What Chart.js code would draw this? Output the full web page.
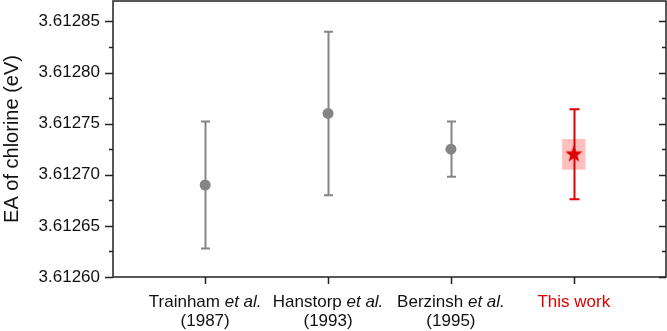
<!DOCTYPE html>
<html>
<head>
<meta charset="utf-8">
<script src="https://cdn.jsdelivr.net/npm/chart.js@4"></script>
<style>
  html, body { margin: 0; padding: 0; background: #fff; }
  #wrap { width: 667px; height: 331px; }
</style>
</head>
<body>
<div id="wrap"><canvas id="chart"></canvas></div>
<script>
// data
const authors = ['Trainham', 'Hanstorp', 'Berzinsh', 'This work'];
const etAl = [' et al.', ' et al.', ' et al.', ''];
const years = ['(1987)', '(1993)', '(1995)', ''];
const positions = [1, 2, 3, 4];
const ea = [3.61269, 3.61276, 3.612725, 3.61272];
const eaErr = [0.000062, 0.00008, 0.000027, 0.000044];
const thisWorkBand = 0.000015;
const yTicks = [3.61260, 3.61265, 3.61270, 3.61275, 3.61280, 3.61285];

const FONT = "'Liberation Sans', Arial, sans-serif";
const GREY = '#858585';
const RED = '#e00000';
const INK = '#222';

// filled five point star used as point style
function makeStar(r, color) {
  const c = document.createElement('canvas');
  c.width = c.height = r * 2 + 2;
  const g = c.getContext('2d');
  g.translate(r + 1, r + 1);
  g.beginPath();
  for (let k = 0; k < 10; k++) {
    const rad = k % 2 === 0 ? r : r * 0.42;
    const a = -Math.PI / 2 + k * Math.PI / 5;
    g.lineTo(rad * Math.cos(a), rad * Math.sin(a));
  }
  g.closePath();
  g.fillStyle = color;
  g.fill();
  return c;
}
const star = makeStar(9, RED);

const lit = positions.slice(0, 3).map((x, i) => ({ x: x, y: ea[i] }));
const ours = [{ x: positions[3], y: ea[3] }];

function noPad(s) {
  s.paddingTop = 0; s.paddingBottom = 0;
  s.paddingLeft = 0; s.paddingRight = 0;
}

const decor = {
  id: 'decor',
  beforeDatasetsDraw(chart) {
    const { ctx, scales: { x, y } } = chart;
    ctx.save();
    // shaded band for this work
    const bx0 = x.getPixelForValue(positions[3] - 0.095);
    const bx1 = x.getPixelForValue(positions[3] + 0.095);
    const by0 = y.getPixelForValue(ea[3] + thisWorkBand);
    const by1 = y.getPixelForValue(ea[3] - thisWorkBand);
    ctx.fillStyle = 'rgba(255,0,0,0.25)';
    ctx.fillRect(bx0, by0, bx1 - bx0, by1 - by0);
    // error bars
    positions.forEach((p, i) => {
      const px = Math.round(x.getPixelForValue(p)) + 0.5;
      const top = y.getPixelForValue(ea[i] + eaErr[i]);
      const bot = y.getPixelForValue(ea[i] - eaErr[i]);
      const cap = i === 3 ? 5 : 4.5;
      ctx.strokeStyle = i === 3 ? RED : GREY;
      ctx.lineWidth = 2;
      ctx.beginPath();
      ctx.moveTo(px, top); ctx.lineTo(px, bot);
      ctx.moveTo(px - cap, top); ctx.lineTo(px + cap, top);
      ctx.moveTo(px - cap, bot); ctx.lineTo(px + cap, bot);
      ctx.stroke();
    });
    ctx.restore();
  },
  afterDraw(chart) {
    const { ctx, chartArea: a, scales: { x, y } } = chart;
    ctx.save();
    ctx.strokeStyle = INK;
    ctx.lineWidth = 1.5;
    ctx.strokeRect(a.left, a.top, a.right - a.left, a.bottom - a.top);
    ctx.beginPath();
    ctx.lineWidth = 1.5;
    yTicks.forEach((v, i) => {
      const py = Math.round(y.getPixelForValue(v)) + 0.5;
      ctx.moveTo(a.left - 8, py); ctx.lineTo(a.left, py);
      ctx.moveTo(a.right, py); ctx.lineTo(a.right - 7, py);
      if (i < yTicks.length - 1) {
        const pm = Math.round(y.getPixelForValue((v + yTicks[i + 1]) / 2)) + 0.5;
        ctx.moveTo(a.left - 4, pm); ctx.lineTo(a.left, pm);
        ctx.moveTo(a.right, pm); ctx.lineTo(a.right - 4, pm);
      }
    });
    positions.forEach(p => {
      const px = Math.round(x.getPixelForValue(p)) + 0.5;
      ctx.moveTo(px, a.bottom); ctx.lineTo(px, a.bottom + 7);
    });
    ctx.stroke();
    // category labels, with italic "et al."
    ctx.textBaseline = 'alphabetic';
    const normal = '17px ' + FONT;
    const ital = 'italic 17px ' + FONT;
    positions.forEach((p, i) => {
      const cx = x.getPixelForValue(p);
      ctx.font = normal;
      const w1 = ctx.measureText(authors[i]).width;
      ctx.font = ital;
      const w2 = ctx.measureText(etAl[i]).width;
      let sx = cx - (w1 + w2) / 2;
      ctx.fillStyle = i === 3 ? RED : '#111';
      ctx.textAlign = 'left';
      ctx.font = normal;
      ctx.fillText(authors[i], sx, 307);
      ctx.font = ital;
      ctx.fillText(etAl[i], sx + w1, 307);
      ctx.font = normal;
      ctx.textAlign = 'center';
      ctx.fillText(years[i], cx, 326);
    });
    ctx.restore();
  }
};

new Chart(document.getElementById('chart'), {
  type: 'scatter',
  data: {
    datasets: [
      {
        label: 'Previous',
        data: lit,
        backgroundColor: GREY,
        borderColor: GREY,
        pointRadius: 5.5,
        borderWidth: 0,
      },
      {
        label: 'This work',
        data: ours,
        pointStyle: star,
        pointRadius: 9,
      },
    ],
  },
  options: {
    responsive: true,
    maintainAspectRatio: false,
    animation: false,
    layout: { autoPadding: false, padding: { top: 1, right: 1, left: 0, bottom: 0 } },
    plugins: { legend: { display: false }, tooltip: { enabled: false } },
    scales: {
      x: {
        type: 'linear',
        min: 0.25,
        max: 4.75,
        grid: { display: false, drawTicks: false },
        border: { display: false },
        ticks: { display: false },
        afterFit: s => { s.height = 54; noPad(s); },
      },
      y: {
        type: 'linear',
        min: 3.6126,
        max: 3.61287,
        afterBuildTicks: s => { s.ticks = yTicks.map(v => ({ value: v })); },
        afterFit: s => { s.width = 113; noPad(s); },
        grid: { display: false, drawTicks: false },
        border: { display: false },
        ticks: {
          padding: 13,
          color: '#111',
          font: { size: 17, family: FONT },
          callback: v => v.toFixed(5),
        },
        title: {
          display: true,
          text: 'EA of chlorine (eV)',
          color: '#111',
          font: { size: 20, family: FONT },
          padding: { top: 0, bottom: 0 },
        },
      },
    },
  },
  plugins: [decor],
});
</script>
</body>
</html>
